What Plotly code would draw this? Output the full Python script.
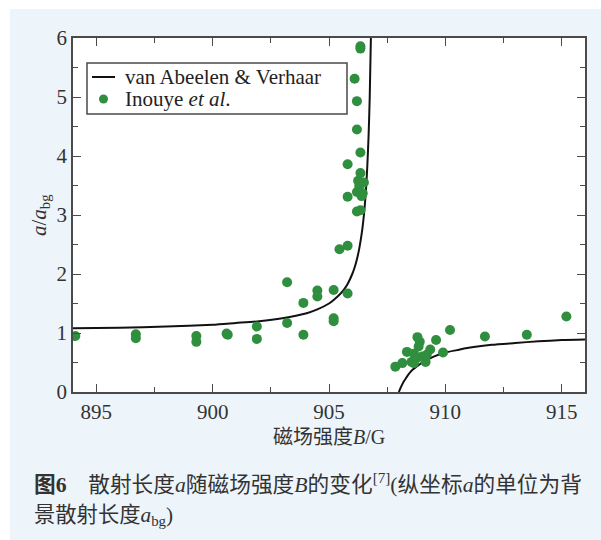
import plotly.graph_objects as go

# ---- data ----
curve_left_B = [894.0, 896.0, 898.0, 900.0, 901.0, 902.0, 903.0, 904.0, 904.5, 905.0, 905.2,
                905.5, 905.65, 905.8, 906.0, 906.1, 906.2, 906.3, 906.4, 906.45, 906.5,
                906.55, 906.6, 906.65, 906.7, 906.75, 906.8]
curve_left_a = [1.08, 1.09, 1.11, 1.14, 1.17, 1.20, 1.25, 1.33, 1.40, 1.50, 1.56,
                1.67, 1.74, 1.83, 2.00, 2.11, 2.25, 2.43, 2.67, 2.82, 3.00,
                3.22, 3.50, 3.86, 4.33, 5.00, 6.00]
curve_right_B = [908.0, 908.1, 908.2, 908.3, 908.4, 908.6, 908.8, 909.0, 909.5, 910.0, 910.5,
                 911.0, 912.0, 913.0, 914.0, 915.0, 916.0]
curve_right_a = [0.00, 0.09, 0.17, 0.23, 0.29, 0.38, 0.44, 0.50, 0.60, 0.67, 0.71,
                 0.75, 0.80, 0.83, 0.86, 0.88, 0.89]

data_B = [894.1, 896.7, 896.7, 899.3, 899.3, 900.6, 900.65, 901.9, 901.9, 903.2, 903.2,
          903.9, 903.9, 904.5, 904.5, 905.2, 905.2, 905.2, 905.8, 905.45, 905.8,
          906.2, 906.35, 905.8, 906.2, 906.45, 906.4, 906.3, 906.25, 906.5, 906.35,
          905.8, 906.35, 906.2, 906.2, 906.1, 906.35, 906.35,
          907.85, 908.15, 908.35, 908.55, 908.65, 908.65, 908.75, 908.85, 908.8, 908.9,
          909.0, 909.15, 909.2, 909.35, 909.6, 909.9, 910.2, 911.7, 913.5, 915.2]
data_a = [0.95, 0.98, 0.91, 0.95, 0.85, 0.99, 0.97, 1.11, 0.90, 1.86, 1.17,
          1.51, 0.97, 1.72, 1.62, 1.73, 1.25, 1.20, 1.67, 2.42, 2.48,
          3.06, 3.08, 3.31, 3.39, 3.37, 3.32, 3.49, 3.58, 3.55, 3.71,
          3.86, 4.06, 4.45, 4.93, 5.31, 5.82, 5.86,
          0.43, 0.49, 0.68, 0.51, 0.49, 0.65, 0.57, 0.77, 0.93, 0.85,
          0.60, 0.51, 0.63, 0.72, 0.88, 0.67, 1.05, 0.94, 0.97, 1.28]

x_ticks = [895, 900, 905, 910, 915]
y_ticks = [0, 1, 2, 3, 4, 5, 6]
series_names = ["van Abeelen &amp; Verhaar", "Inouye <i>et al</i>."]

# ---- styling ----
BG = "#edf5fb"
AX = "#4a4a4a"
TXT = "#333333"
FONT = "Times New Roman"
CJK = "Times New Roman, Noto Sans CJK SC"
GREEN = "#2f8f3f"
LINE = "#111111"

fig = go.Figure()
fig.add_trace(go.Scatter(x=curve_left_B, y=curve_left_a, mode="lines",
                         line=dict(color=LINE, width=2, shape="spline", smoothing=0.6),
                         name=series_names[0], showlegend=False))
fig.add_trace(go.Scatter(x=curve_right_B, y=curve_right_a, mode="lines",
                         line=dict(color=LINE, width=2, shape="spline", smoothing=0.6),
                         name=series_names[0], showlegend=False))
fig.add_trace(go.Scatter(x=data_B, y=data_a, mode="markers",
                         marker=dict(color=GREEN, size=10, line=dict(width=0)),
                         name=series_names[1], showlegend=False))

W, H = 601, 540
L, R, T, B = 73, 16, 38, 148
pw, ph = W - L - R, H - T - B


def px(xp):
    return (xp - L) / pw


def py(yp):
    return (H - B - yp) / ph


axis_common = dict(showline=True, linecolor=AX, linewidth=1.5, mirror="ticks",
                   ticks="inside", ticklen=8, tickwidth=1.3, tickcolor=AX,
                   showgrid=False, zeroline=False,
                   tickfont=dict(family=FONT, size=21, color=TXT))

fig.update_xaxes(range=[894, 916], tickvals=x_ticks,
                 minor=dict(ticks="inside", dtick=2.5, tick0=895, ticklen=5, tickwidth=1.3, tickcolor=AX),
                 **axis_common)
fig.update_yaxes(range=[0, 6], tickvals=y_ticks,
                 minor=dict(ticks="inside", dtick=0.5, tick0=0, ticklen=5, tickwidth=1.3, tickcolor=AX),
                 **axis_common)

annotations = [
    dict(text="<i>a</i>/<i>a</i><sub>bg</sub>", x=px(40), y=0.5, xref="paper", yref="paper",
         textangle=-90, showarrow=False, xanchor="center", yanchor="middle",
         font=dict(family=FONT, size=21, color=TXT)),
    dict(text="磁场强度<i>B</i>/G", x=0.5, y=py(437), xref="paper", yref="paper",
         showarrow=False, xanchor="center", yanchor="middle",
         font=dict(family=CJK, size=20, color=TXT)),
    dict(text="<b>图6</b>　散射长度<i>a</i>随磁场强度<i>B</i>的变化<sup>[7]</sup>(纵坐标<i>a</i>的单位为背",
         x=px(32), y=py(483), xref="paper", yref="paper",
         showarrow=False, xanchor="left", yanchor="middle",
         font=dict(family=CJK, size=21.7, color=TXT)),
    dict(text="景散射长度<i>a</i><sub>bg</sub>)",
         x=px(32), y=py(516), xref="paper", yref="paper",
         showarrow=False, xanchor="left", yanchor="middle",
         font=dict(family=CJK, size=21.3, color=TXT)),
    # legend texts
    dict(text=series_names[0], x=px(123), y=py(77), xref="paper", yref="paper",
         showarrow=False, xanchor="left", yanchor="middle",
         font=dict(family=FONT, size=21, color="#222222")),
    dict(text=series_names[1], x=px(123), y=py(99), xref="paper", yref="paper",
         showarrow=False, xanchor="left", yanchor="middle",
         font=dict(family=FONT, size=21, color="#222222")),
]

shapes = [
    dict(type="rect", xref="paper", yref="paper", x0=px(-5), x1=px(W + 5), y0=py(9), y1=py(-5),
         fillcolor="white", line=dict(width=0), layer="below"),
    dict(type="rect", xref="paper", yref="paper", x0=px(-5), x1=px(10), y0=py(H + 5), y1=py(-5),
         fillcolor="white", line=dict(width=0), layer="below"),
    # legend box
    dict(type="rect", xref="paper", yref="paper", x0=px(87), x1=px(347), y0=py(114), y1=py(63),
         fillcolor="white", line=dict(color=AX, width=1.5), layer="above"),
    # legend line symbol
    dict(type="line", xref="paper", yref="paper", x0=px(92), x1=px(115), y0=py(77), y1=py(77),
         line=dict(color=LINE, width=2), layer="above"),
    # legend marker symbol
    dict(type="circle", xref="paper", yref="paper", x0=px(99), x1=px(108), y0=py(103.5), y1=py(94.5),
         fillcolor=GREEN, line=dict(width=0), layer="above"),
]

fig.update_layout(
    width=W, height=H,
    margin=dict(l=L, r=R, t=T, b=B),
    paper_bgcolor=BG, plot_bgcolor="white",
    showlegend=False,
    annotations=annotations,
    shapes=shapes,
)

fig.write_html("out.html")
